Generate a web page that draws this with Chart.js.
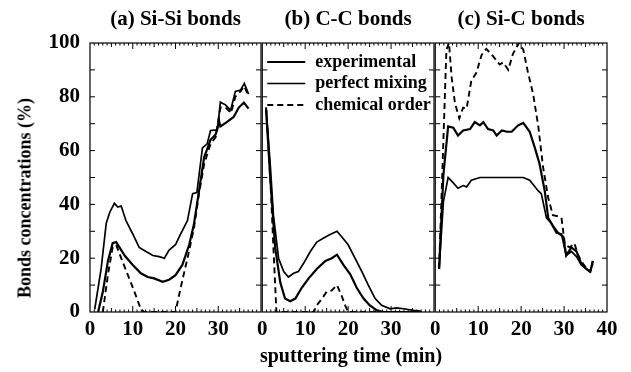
<!DOCTYPE html>
<html>
<head>
    <title>Bonds concentrations vs sputtering time</title>
    <script src="https://cdn.jsdelivr.net/npm/chart.js"></script>
    <style>
        body {
            margin: 0;
            background: #fff;
        }
        #wrap {
            position: relative;
            width: 631px;
            height: 372px;
            font-family: 'Liberation Serif', 'Times New Roman', serif;
            font-weight: bold;
            color: #000;
        }
        canvas {
            position: absolute;
            top: 0;
        }
        .ytitle {
            position: absolute;
            left: 25px;
            top: 198px;
            transform: translate(-50%, -50%) rotate(-90deg);
            white-space: nowrap;
            font-size: 18px;
        }
        .xtitle {
            position: absolute;
            left: 351px;
            top: 355px;
            transform: translate(-50%, -50%);
            white-space: nowrap;
            font-size: 20px;
        }
    </style>
</head>
<body>
    <div id="wrap">
        <canvas id="chartA" width="266" height="342" style="left:0px"></canvas>
        <canvas id="chartB" width="187" height="342" style="left:252px"></canvas>
        <canvas id="chartC" width="206" height="342" style="left:425px"></canvas>
        <div class="ytitle">Bonds concentrations (%)</div>
        <div class="xtitle">sputtering time (min)</div>
    </div>

    <script>
        const seriesLabels = ['experimental', 'perfect mixing', 'chemical order'];
        const panelTitles = ['(a) Si-Si bonds', '(b) C-C bonds', '(c) Si-C bonds'];
        const xTicks = [0, 10, 20, 30, 40];
        const yTicks = [0, 20, 40, 60, 80, 100];

        // (a) Si-Si
        const siSiExpT = [1.9, 3, 4.2, 5.3, 6.1, 6.9, 8.1, 10, 11.9, 13.5, 15, 17, 18.5, 20, 21.6, 23.2, 24.3, 25.5, 26.7, 28.2, 29.4, 30.2, 30.5, 32, 33.6, 34.8, 36, 37.1];
        const siSiExpV = [0, 7.5, 19, 25.6, 26, 24, 21, 17.5, 14.4, 13, 12.5, 11.2, 12, 13.7, 17.5, 25, 32.5, 45, 57.5, 64, 66, 71, 69, 70.6, 72.5, 76, 77.8, 75.6];
        const siSiMixT = [1.1, 2.6, 3.8, 4.6, 5.7, 6.5, 7.3, 8.4, 10, 11.5, 13.1, 14.7, 16.2, 17.4, 18.5, 20, 21.2, 22.8, 24, 25, 26.3, 27.4, 28.2, 29.8, 30.5, 31.7, 32.9, 34, 35.2, 36.1, 37.1];
        const siSiMixV = [1, 16, 33, 37, 40.4, 39, 39.4, 34, 29, 24, 22.5, 21, 20.6, 20, 23, 25, 29, 34, 44, 44.4, 61, 62.5, 67.5, 67.7, 78, 77, 75, 82, 82.5, 85, 81];
        const siSiOrdT = [3, 4.2, 5.3, 6.1, 7.3, 8.8, 10.4, 11.9, 12.7, 20, 21.2, 22.8, 24.3, 25.5, 26.7, 28.2, 29.4, 30.5, 31.7, 33, 34, 35.2, 36.1, 37.1];
        const siSiOrdV = [0, 14, 24, 25, 20, 14, 7.5, 1, 0, 0, 9, 20, 31, 44, 55, 62.5, 65, 76, 76, 74, 80, 82, 84, 80];

        // (b) C-C
        const ccExpT = [0.9, 1.9, 3, 4.2, 5.3, 6.5, 7.7, 9.2, 10.8, 12.7, 14.7, 16.2, 17.4, 18.9, 20.5, 22, 23.6, 25, 26.7, 28.2, 37.1];
        const ccExpV = [75, 49, 24, 11, 5, 4, 5, 9, 12.5, 16, 19, 20, 21.3, 17.5, 14, 9, 5, 2.5, 0.6, 0, 0];
        const ccMixT = [0.9, 1.9, 2.6, 3.8, 5, 6.1, 7.3, 8.4, 9.6, 11.2, 12.7, 14.3, 15.8, 17.4, 18.5, 20, 21.6, 23.2, 24.7, 26.3, 27.8, 29.8, 31.3, 32.9, 35.2, 37.1];
        const ccMixV = [76, 54, 36, 20, 15, 13, 14.4, 15, 18, 22.5, 26, 27.5, 28.8, 30, 28, 25, 20, 15, 10, 5, 2.5, 1.2, 1.5, 1.2, 0.6, 0.2];
        const ccOrdT = [0.9, 1.9, 2.6, 3.3, 12, 12.7, 13.9, 15, 16.2, 17.4, 18.5, 19.3, 20, 37.1];
        const ccOrdV = [76, 49, 24, 0, 0, 2.5, 5, 7.5, 8, 10, 6, 2.5, 0, 0];

        // (c) Si-C
        const siCExpT = [0.9, 1.9, 3, 4.2, 5.3, 6.5, 8.1, 9.2, 10.4, 11.2, 12.3, 13.5, 14.3, 15.5, 16.7, 17.8, 19.3, 20.5, 22, 23.2, 24.3, 25.5, 26.3, 27.4, 28.6, 29.8, 30.5, 31.7, 32.9, 34, 35.2, 36.1, 36.7];
        const siCExpV = [16, 51, 69, 68.5, 65.6, 67.5, 68, 70.6, 69.4, 70.6, 68, 67.5, 65.6, 67.5, 67, 67, 69.4, 70.3, 67, 61, 55, 45, 35, 32, 29.4, 28, 21, 24, 22.5, 18, 16, 15, 19];
        const siCMixT = [0.9, 1.9, 3, 4.2, 5.3, 6.5, 7.3, 8.4, 10.4, 15, 18.1, 20.5, 22, 24, 24.7, 25.9, 27, 28.2, 29.4, 30.5, 31.7, 32.9, 34, 35.2, 36, 36.7];
        const siCMixV = [16, 41, 50, 48, 46, 47, 46.5, 49, 50, 50, 50, 50, 49, 45, 44, 35, 33, 29.4, 29, 21, 22.5, 20.6, 17.5, 16, 15, 18];
        const siCOrdT = [0.9, 1.9, 2.6, 3.2, 3.8, 4.6, 5.6, 6.5, 7.3, 8.4, 9.6, 10.8, 11.9, 13.5, 15, 15.8, 17, 18.1, 19.5, 20.5, 21.6, 22.8, 24, 25.1, 26.3, 27.4, 28.6, 29.4, 30.2, 31.3, 32.4, 33.3, 34.4, 35.5, 36.1, 36.7];
        const siCOrdV = [16, 64, 97.5, 100, 87.5, 77.5, 72, 76, 75.6, 86, 89, 95.6, 97.8, 95, 92, 92.8, 90, 96, 100, 97.5, 89, 81, 69, 54, 42.5, 36, 35.6, 35, 25, 24, 25.6, 21, 18, 15.6, 15, 19];

        const serif = "'Liberation Serif', 'Times New Roman', serif";
        const lineStyles = [
            { borderWidth: 2.2, borderDash: [] },
            { borderWidth: 1.7, borderDash: [] },
            { borderWidth: 1.9, borderDash: [6, 4] }
        ];

        function pairs(t, v) {
            return t.map((x, i) => ({ x: x, y: v[i] }));
        }

        // box around the plot with inward ticks on all four sides
        const framePlugin = {
            id: 'frame',
            afterDatasetsDraw(chart) {
                const { ctx, chartArea: a, scales: { x, y } } = chart;
                ctx.save();
                ctx.strokeStyle = '#000';
                ctx.lineWidth = 1.2;
                ctx.strokeRect(a.left, a.top, a.width, a.height);
                ctx.beginPath();
                for (let v = 10; v < 100; v += 10) {
                    const py = y.getPixelForValue(v);
                    ctx.moveTo(a.left, py); ctx.lineTo(a.left + 5, py);
                    ctx.moveTo(a.right, py); ctx.lineTo(a.right - 5, py);
                }
                for (let t = 1; t < 40; t++) {
                    const px = x.getPixelForValue(t);
                    const len = t % 10 === 0 ? 6 : (t % 5 === 0 ? 4 : 2.5);
                    ctx.moveTo(px, a.bottom); ctx.lineTo(px, a.bottom - len);
                    ctx.moveTo(px, a.top); ctx.lineTo(px, a.top + len);
                }
                ctx.lineWidth = 1;
                ctx.stroke();
                ctx.restore();
            }
        };

        // legend drawn inside the plot of panel (b)
        const insideLegend = {
            id: 'insideLegend',
            afterDraw(chart) {
                const { ctx, chartArea: a } = chart;
                ctx.save();
                ctx.font = 'bold 18px ' + serif;
                ctx.fillStyle = '#000';
                ctx.textBaseline = 'middle';
                chart.data.datasets.forEach((ds, i) => {
                    const yy = a.top + 19 + i * 21.5;
                    ctx.beginPath();
                    ctx.strokeStyle = '#000';
                    ctx.lineWidth = ds.borderWidth;
                    ctx.setLineDash(ds.borderDash);
                    ctx.moveTo(a.left + 5, yy);
                    ctx.lineTo(a.left + 43, yy);
                    ctx.stroke();
                    ctx.fillText(ds.label, a.left + 53, yy);
                });
                ctx.restore();
            }
        };

        function makePanel(id, title, series, opts) {
            const datasets = series.map((s, i) => ({
                label: seriesLabels[i],
                data: pairs(s[0], s[1]),
                borderColor: '#000',
                borderWidth: lineStyles[i].borderWidth,
                borderDash: lineStyles[i].borderDash,
                pointRadius: 0,
                tension: 0,
                fill: false
            }));
            const plugins = [framePlugin];
            if (opts.legend) plugins.push(insideLegend);

            return new Chart(document.getElementById(id), {
                type: 'line',
                data: { datasets: datasets },
                options: {
                    responsive: false,
                    animation: false,
                    layout: { padding: { right: opts.padRight, top: 0, bottom: 0, left: 0 } },
                    plugins: {
                        legend: { display: false },
                        tooltip: { enabled: false },
                        title: {
                            display: true,
                            text: title,
                            fullSize: false,
                            color: '#000',
                            font: { family: serif, size: 21, weight: 'bold' },
                            padding: { top: 7, bottom: 10.8 }
                        }
                    },
                    scales: {
                        x: {
                            type: 'linear',
                            min: 0,
                            max: 40,
                            grid: { display: false, drawTicks: false },
                            border: { display: false },
                            afterBuildTicks: s => { s.ticks = xTicks.map(v => ({ value: v })); },
                            ticks: {
                                padding: 5,
                                maxRotation: 0,
                                color: '#000',
                                font: { family: serif, size: 21, weight: 'bold' },
                                callback: v => (opts.hideLast && v === 40) ? '' : v
                            },
                            afterFit: s => { s.height = 30; }
                        },
                        y: {
                            min: 0,
                            max: 100,
                            grid: { display: false, drawTicks: false },
                            border: { display: false },
                            afterBuildTicks: s => { s.ticks = yTicks.map(v => ({ value: v })); },
                            ticks: {
                                display: opts.showY,
                                padding: 10,
                                color: '#000',
                                font: { family: serif, size: 21, weight: 'bold' }
                            },
                            afterFit: s => { s.width = opts.yWidth; }
                        }
                    }
                },
                plugins: plugins
            });
        }

        makePanel('chartA', panelTitles[0],
            [[siSiExpT, siSiExpV], [siSiMixT, siSiMixV], [siSiOrdT, siSiOrdV]],
            { yWidth: 90, showY: true, padRight: 4, hideLast: true, legend: false });
        makePanel('chartB', panelTitles[1],
            [[ccExpT, ccExpV], [ccMixT, ccMixV], [ccOrdT, ccOrdV]],
            { yWidth: 10, showY: false, padRight: 4, hideLast: true, legend: true });
        makePanel('chartC', panelTitles[2],
            [[siCExpT, siCExpV], [siCMixT, siCMixV], [siCOrdT, siCOrdV]],
            { yWidth: 10, showY: false, padRight: 24, hideLast: false, legend: false });
    </script>
</body>
</html>
